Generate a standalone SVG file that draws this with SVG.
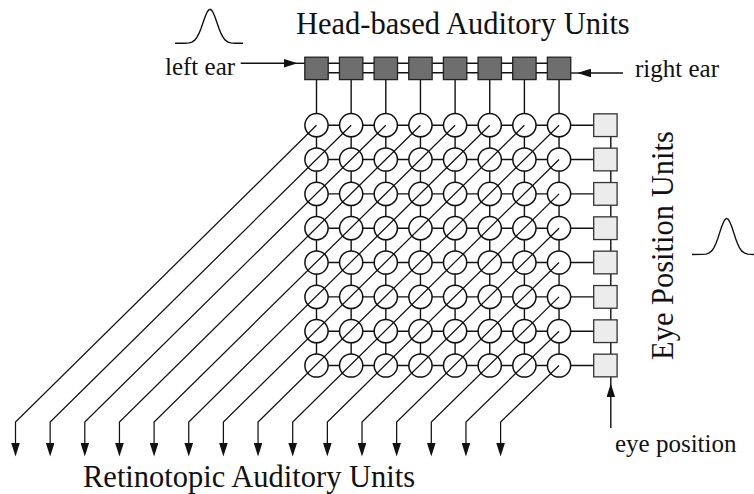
<svg xmlns="http://www.w3.org/2000/svg" xmlns:xlink="http://www.w3.org/1999/xlink" width="754" height="494" viewBox="0 0 754 494">
<style>
.ln{fill:none;stroke:#111;stroke-width:1.4}
.dg{fill:none;stroke:#111;stroke-width:1.25}
.ar{fill:none;stroke:#111;stroke-width:1.4;marker-end:url(#ah)}
.cir{fill:none;stroke:#111;stroke-width:1.5}
.hsq{fill:#6e6e6e;stroke:#222;stroke-width:1.3}
.esq{fill:#ececec;stroke:#333;stroke-width:1.3}
.big{font-family:'Liberation Serif','Times New Roman',serif;font-size:30.5px;fill:#111}
.lab{font-family:'Liberation Serif','Times New Roman',serif;font-size:25px;fill:#111}
.gs{fill:none;stroke:#111;stroke-width:1.4}
</style>
<defs>
<marker id="ah" markerUnits="userSpaceOnUse" viewBox="0 0 13.5 8.6" refX="7" refY="4.3" markerWidth="13.5" markerHeight="8.6" orient="auto">
<path d="M0,0 L13.5,4.3 L0,8.6 z" fill="#111"/>
</marker>
</defs>

<g id="connectors">
<!-- double lines between head squares -->
<path class="ln" d="M316.5,63.3 H559 M316.5,72.7 H559"/>
<!-- ear inputs -->
<path class="ar" d="M240.7,63.3 H291"/>
<path class="ln" d="M290,63.3 H305"/>
<path class="ar" d="M623,73 H584"/>
<path class="ln" d="M585,73 H570"/>
<!-- eye position chain and input -->
<path class="ln" d="M610.8,125.2 V365.5"/>
<path class="ar" d="M610.8,428 V390"/>
<path class="ln" d="M610.8,391 V376"/>
<!-- vertical grid lines -->
<path class="ln" d="M316.5,79.6 V113.6 m0,23.2 v11.13 m0,23.2 v11.13 m0,23.2 v11.13 m0,23.2 v11.13 m0,23.2 v11.13 m0,23.2 v11.13 m0,23.2 v11.13"/>
<path class="ln" d="M351.15,79.6 V113.6 m0,23.2 v11.13 m0,23.2 v11.13 m0,23.2 v11.13 m0,23.2 v11.13 m0,23.2 v11.13 m0,23.2 v11.13 m0,23.2 v11.13"/>
<path class="ln" d="M385.8,79.6 V113.6 m0,23.2 v11.13 m0,23.2 v11.13 m0,23.2 v11.13 m0,23.2 v11.13 m0,23.2 v11.13 m0,23.2 v11.13 m0,23.2 v11.13"/>
<path class="ln" d="M420.45,79.6 V113.6 m0,23.2 v11.13 m0,23.2 v11.13 m0,23.2 v11.13 m0,23.2 v11.13 m0,23.2 v11.13 m0,23.2 v11.13 m0,23.2 v11.13"/>
<path class="ln" d="M455.1,79.6 V113.6 m0,23.2 v11.13 m0,23.2 v11.13 m0,23.2 v11.13 m0,23.2 v11.13 m0,23.2 v11.13 m0,23.2 v11.13 m0,23.2 v11.13"/>
<path class="ln" d="M489.75,79.6 V113.6 m0,23.2 v11.13 m0,23.2 v11.13 m0,23.2 v11.13 m0,23.2 v11.13 m0,23.2 v11.13 m0,23.2 v11.13 m0,23.2 v11.13"/>
<path class="ln" d="M524.4,79.6 V113.6 m0,23.2 v11.13 m0,23.2 v11.13 m0,23.2 v11.13 m0,23.2 v11.13 m0,23.2 v11.13 m0,23.2 v11.13 m0,23.2 v11.13"/>
<path class="ln" d="M559.05,79.6 V113.6 m0,23.2 v11.13 m0,23.2 v11.13 m0,23.2 v11.13 m0,23.2 v11.13 m0,23.2 v11.13 m0,23.2 v11.13 m0,23.2 v11.13"/>
<!-- horizontal grid lines -->
<path class="ln" d="M328.1,125.2 h11.45 m23.2,0 h11.45 m23.2,0 h11.45 m23.2,0 h11.45 m23.2,0 h11.45 m23.2,0 h11.45 m23.2,0 h11.45 m23.2,0 h23.4"/>
<path class="ln" d="M328.1,159.5 h11.45 m23.2,0 h11.45 m23.2,0 h11.45 m23.2,0 h11.45 m23.2,0 h11.45 m23.2,0 h11.45 m23.2,0 h11.45 m23.2,0 h23.4"/>
<path class="ln" d="M328.1,193.9 h11.45 m23.2,0 h11.45 m23.2,0 h11.45 m23.2,0 h11.45 m23.2,0 h11.45 m23.2,0 h11.45 m23.2,0 h11.45 m23.2,0 h23.4"/>
<path class="ln" d="M328.1,228.2 h11.45 m23.2,0 h11.45 m23.2,0 h11.45 m23.2,0 h11.45 m23.2,0 h11.45 m23.2,0 h11.45 m23.2,0 h11.45 m23.2,0 h23.4"/>
<path class="ln" d="M328.1,262.5 h11.45 m23.2,0 h11.45 m23.2,0 h11.45 m23.2,0 h11.45 m23.2,0 h11.45 m23.2,0 h11.45 m23.2,0 h11.45 m23.2,0 h23.4"/>
<path class="ln" d="M328.1,296.9 h11.45 m23.2,0 h11.45 m23.2,0 h11.45 m23.2,0 h11.45 m23.2,0 h11.45 m23.2,0 h11.45 m23.2,0 h11.45 m23.2,0 h23.4"/>
<path class="ln" d="M328.1,331.2 h11.45 m23.2,0 h11.45 m23.2,0 h11.45 m23.2,0 h11.45 m23.2,0 h11.45 m23.2,0 h11.45 m23.2,0 h11.45 m23.2,0 h23.4"/>
<path class="ln" d="M328.1,365.5 h11.45 m23.2,0 h11.45 m23.2,0 h11.45 m23.2,0 h11.45 m23.2,0 h11.45 m23.2,0 h11.45 m23.2,0 h11.45 m23.2,0 h23.4"/>
<!-- diagonal outputs -->
<path class="dg" d="M316.5,125.2 L15.5,422 V450" marker-end="url(#ah)"/>
<path class="dg" d="M351.15,125.2 L50.15,422 V450" marker-end="url(#ah)"/>
<path class="dg" d="M385.8,125.2 L84.8,422 V450" marker-end="url(#ah)"/>
<path class="dg" d="M420.45,125.2 L119.45,422 V450" marker-end="url(#ah)"/>
<path class="dg" d="M455.1,125.2 L154.1,422 V450" marker-end="url(#ah)"/>
<path class="dg" d="M489.75,125.2 L188.75,422 V450" marker-end="url(#ah)"/>
<path class="dg" d="M524.4,125.2 L223.4,422 V450" marker-end="url(#ah)"/>
<path class="dg" d="M559.05,125.2 L258.05,422 V450" marker-end="url(#ah)"/>
<path class="dg" d="M559.05,159.5 L292.7,422 V450" marker-end="url(#ah)"/>
<path class="dg" d="M559.05,193.9 L327.35,422 V450" marker-end="url(#ah)"/>
<path class="dg" d="M559.05,228.2 L362,422 V450" marker-end="url(#ah)"/>
<path class="dg" d="M559.05,262.5 L396.65,422 V450" marker-end="url(#ah)"/>
<path class="dg" d="M559.05,296.9 L431.3,422 V450" marker-end="url(#ah)"/>
<path class="dg" d="M559.05,331.2 L465.95,422 V450" marker-end="url(#ah)"/>
<path class="dg" d="M559.05,365.5 L500.6,422 V450" marker-end="url(#ah)"/>
</g>

<g id="head-units">
<rect class="hsq" x="304.8" y="57.2" width="23.4" height="22.4"/>
<rect class="hsq" x="339.45" y="57.2" width="23.4" height="22.4"/>
<rect class="hsq" x="374.1" y="57.2" width="23.4" height="22.4"/>
<rect class="hsq" x="408.75" y="57.2" width="23.4" height="22.4"/>
<rect class="hsq" x="443.4" y="57.2" width="23.4" height="22.4"/>
<rect class="hsq" x="478.05" y="57.2" width="23.4" height="22.4"/>
<rect class="hsq" x="512.7" y="57.2" width="23.4" height="22.4"/>
<rect class="hsq" x="547.35" y="57.2" width="23.4" height="22.4"/>
</g>

<g id="eye-units">
<rect class="esq" x="593.7" y="113.85" width="23.4" height="22.7"/>
<rect class="esq" x="593.7" y="148.15" width="23.4" height="22.7"/>
<rect class="esq" x="593.7" y="182.55" width="23.4" height="22.7"/>
<rect class="esq" x="593.7" y="216.85" width="23.4" height="22.7"/>
<rect class="esq" x="593.7" y="251.15" width="23.4" height="22.7"/>
<rect class="esq" x="593.7" y="285.55" width="23.4" height="22.7"/>
<rect class="esq" x="593.7" y="319.85" width="23.4" height="22.7"/>
<rect class="esq" x="593.7" y="354.15" width="23.4" height="22.7"/>
</g>

<g id="basis-units">
<g id="row0"><circle class="cir" cx="316.5" cy="125.2" r="11.6"/><circle class="cir" cx="351.15" cy="125.2" r="11.6"/><circle class="cir" cx="385.8" cy="125.2" r="11.6"/><circle class="cir" cx="420.45" cy="125.2" r="11.6"/><circle class="cir" cx="455.1" cy="125.2" r="11.6"/><circle class="cir" cx="489.75" cy="125.2" r="11.6"/><circle class="cir" cx="524.4" cy="125.2" r="11.6"/><circle class="cir" cx="559.05" cy="125.2" r="11.6"/></g>
<g id="row1"><circle class="cir" cx="316.5" cy="159.5" r="11.6"/><circle class="cir" cx="351.15" cy="159.5" r="11.6"/><circle class="cir" cx="385.8" cy="159.5" r="11.6"/><circle class="cir" cx="420.45" cy="159.5" r="11.6"/><circle class="cir" cx="455.1" cy="159.5" r="11.6"/><circle class="cir" cx="489.75" cy="159.5" r="11.6"/><circle class="cir" cx="524.4" cy="159.5" r="11.6"/><circle class="cir" cx="559.05" cy="159.5" r="11.6"/></g>
<g id="row2"><circle class="cir" cx="316.5" cy="193.9" r="11.6"/><circle class="cir" cx="351.15" cy="193.9" r="11.6"/><circle class="cir" cx="385.8" cy="193.9" r="11.6"/><circle class="cir" cx="420.45" cy="193.9" r="11.6"/><circle class="cir" cx="455.1" cy="193.9" r="11.6"/><circle class="cir" cx="489.75" cy="193.9" r="11.6"/><circle class="cir" cx="524.4" cy="193.9" r="11.6"/><circle class="cir" cx="559.05" cy="193.9" r="11.6"/></g>
<g id="row3"><circle class="cir" cx="316.5" cy="228.2" r="11.6"/><circle class="cir" cx="351.15" cy="228.2" r="11.6"/><circle class="cir" cx="385.8" cy="228.2" r="11.6"/><circle class="cir" cx="420.45" cy="228.2" r="11.6"/><circle class="cir" cx="455.1" cy="228.2" r="11.6"/><circle class="cir" cx="489.75" cy="228.2" r="11.6"/><circle class="cir" cx="524.4" cy="228.2" r="11.6"/><circle class="cir" cx="559.05" cy="228.2" r="11.6"/></g>
<g id="row4"><circle class="cir" cx="316.5" cy="262.5" r="11.6"/><circle class="cir" cx="351.15" cy="262.5" r="11.6"/><circle class="cir" cx="385.8" cy="262.5" r="11.6"/><circle class="cir" cx="420.45" cy="262.5" r="11.6"/><circle class="cir" cx="455.1" cy="262.5" r="11.6"/><circle class="cir" cx="489.75" cy="262.5" r="11.6"/><circle class="cir" cx="524.4" cy="262.5" r="11.6"/><circle class="cir" cx="559.05" cy="262.5" r="11.6"/></g>
<g id="row5"><circle class="cir" cx="316.5" cy="296.9" r="11.6"/><circle class="cir" cx="351.15" cy="296.9" r="11.6"/><circle class="cir" cx="385.8" cy="296.9" r="11.6"/><circle class="cir" cx="420.45" cy="296.9" r="11.6"/><circle class="cir" cx="455.1" cy="296.9" r="11.6"/><circle class="cir" cx="489.75" cy="296.9" r="11.6"/><circle class="cir" cx="524.4" cy="296.9" r="11.6"/><circle class="cir" cx="559.05" cy="296.9" r="11.6"/></g>
<g id="row6"><circle class="cir" cx="316.5" cy="331.2" r="11.6"/><circle class="cir" cx="351.15" cy="331.2" r="11.6"/><circle class="cir" cx="385.8" cy="331.2" r="11.6"/><circle class="cir" cx="420.45" cy="331.2" r="11.6"/><circle class="cir" cx="455.1" cy="331.2" r="11.6"/><circle class="cir" cx="489.75" cy="331.2" r="11.6"/><circle class="cir" cx="524.4" cy="331.2" r="11.6"/><circle class="cir" cx="559.05" cy="331.2" r="11.6"/></g>
<g id="row7"><circle class="cir" cx="316.5" cy="365.5" r="11.6"/><circle class="cir" cx="351.15" cy="365.5" r="11.6"/><circle class="cir" cx="385.8" cy="365.5" r="11.6"/><circle class="cir" cx="420.45" cy="365.5" r="11.6"/><circle class="cir" cx="455.1" cy="365.5" r="11.6"/><circle class="cir" cx="489.75" cy="365.5" r="11.6"/><circle class="cir" cx="524.4" cy="365.5" r="11.6"/><circle class="cir" cx="559.05" cy="365.5" r="11.6"/></g>
</g>

<g id="gaussian-head">
<path class="gs" d="M175,43.3 L185,43.2 L189,42.9 L192,42.1 L195,39.9 L197,37.2 L199,33.4 L201,28.4 L203,22.7 L205,17 L207,12.3 L208.5,10.1 L210,9.3 L211.5,10.1 L213,12.3 L215,17 L217,22.7 L219,28.4 L221,33.4 L223,37.2 L225,39.9 L228,42.1 L231,42.9 L235,43.2 L243,43.3"/>
</g>
<g id="gaussian-eye">
<path class="gs" d="M692,254.5 L702,254.4 L706,254.1 L708.7,253.2 L711.7,250.9 L713.7,248.1 L715.7,244 L717.7,238.8 L719.7,232.6 L721.7,226.6 L723.7,221.7 L725.2,219.3 L726.7,218.5 L728.2,219.3 L729.7,221.7 L731.7,226.6 L733.7,232.6 L735.7,238.8 L737.7,244 L739.7,248.1 L741.7,250.9 L744.7,253.2 L747.7,254.1 L754,254.5"/>
</g>

<g id="labels">
<text class="big" x="296" y="34.3">Head-based Auditory Units</text>
<text class="lab" x="165" y="75.3">left ear</text>
<text class="lab" x="635" y="76.7">right ear</text>
<text class="big" transform="translate(672.5,360) rotate(-90)">Eye Position Units</text>
<text class="lab" x="615" y="451.7">eye position</text>
<text class="big" x="83" y="486.7">Retinotopic Auditory Units</text>
</g>
</svg>
